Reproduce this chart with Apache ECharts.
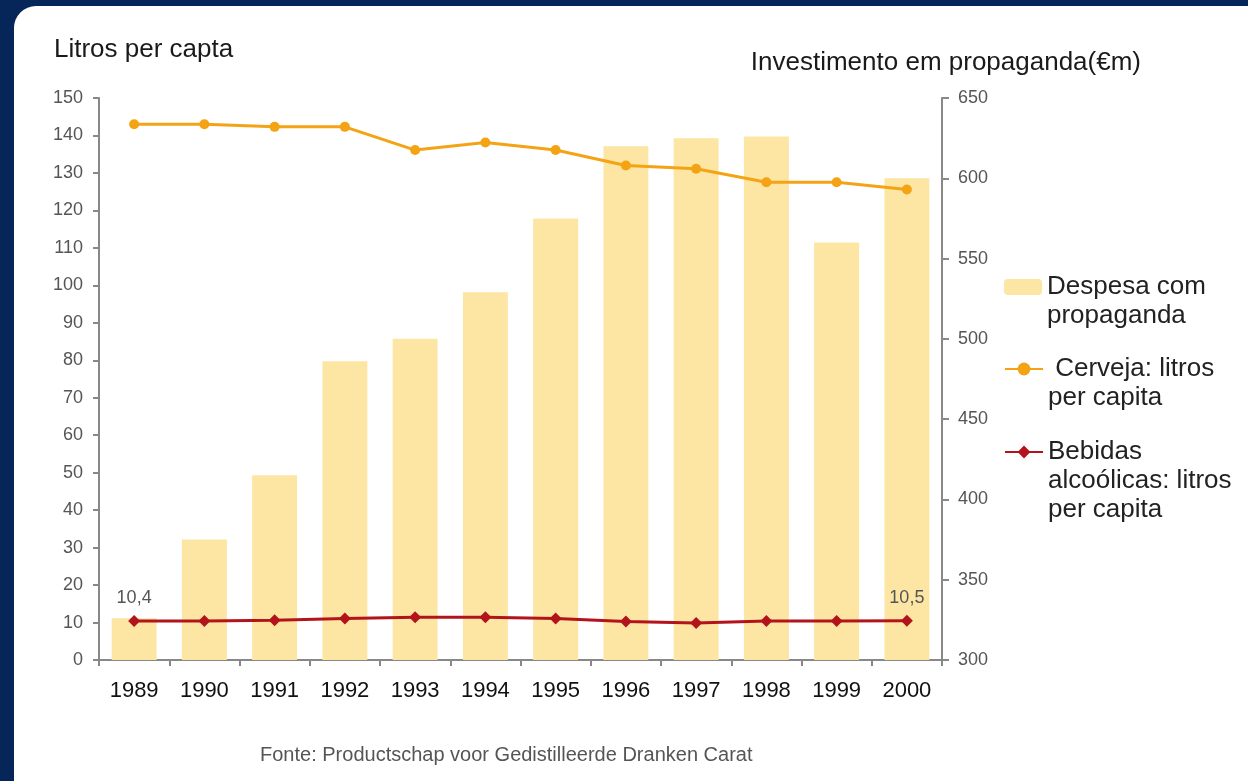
<!DOCTYPE html>
<html style="height: 100%">
<head>
  <meta charset="utf-8">
  <title>Litros per capita</title>
</head>
<body style="height: 100%; margin: 0">
<div id="container" style="height: 100%"></div>
<script src="https://cdn.jsdelivr.net/npm/echarts@6/dist/echarts.min.js"></script>
<script>
  var dom = document.getElementById("container");
  var myChart = echarts.init(dom);
  var option;

  // dados
  var anos = ['1989', '1990', '1991', '1992', '1993', '1994', '1995', '1996', '1997', '1998', '1999', '2000'];
  var despesa = [326, 375, 415, 486, 500, 529, 575, 620, 625, 626, 560, 600];
  var cerveja = [143.0, 143.0, 142.3, 142.3, 136.1, 138.1, 136.1, 132.0, 131.1, 127.5, 127.5, 125.6];
  var bebidas = [10.4, 10.4, 10.6, 11.1, 11.4, 11.4, 11.1, 10.3, 9.9, 10.4, 10.4, 10.5];

  var nomes = ['Despesa com propaganda', 'Cerveja: litros per capita', 'Bebidas alcoólicas: litros per capita'];
  var textos = {
    'Despesa com propaganda': 'Despesa com\npropaganda',
    'Cerveja: litros per capita': ' Cerveja: litros\nper capita',
    'Bebidas alcoólicas: litros per capita': 'Bebidas\nalcoólicas: litros\nper capita'
  };
  var LH = 29;

  // rotulo so no primeiro e no ultimo ponto
  var bebidasData = bebidas.map(function (v, i) {
    var d = { value: v };
    if (i === 0 || i === bebidas.length - 1) {
      d.label = { show: true };
    }
    return d;
  });

  // legenda: o icone fica na primeira linha, por isso linhas vazias em cima
  function legenda(nome, yPrimeira) {
    var n = textos[nome].split('\n').length;
    var vazio = new Array(n).join(' \n');
    return {
      data: [nome],
      orient: 'vertical',
      left: 1004,
      top: yPrimeira - (2 * n - 1) * LH / 2,
      padding: 0,
      itemWidth: 38,
      itemHeight: 16,
      selectedMode: false,
      formatter: function (name) { return vazio + textos[name]; },
      textStyle: {
        fontFamily: 'Liberation Sans',
        fontSize: 26,
        lineHeight: LH,
        color: '#222'
      }
    };
  }

  option = {
    backgroundColor: '#06265a',
    animation: false,
    textStyle: { fontFamily: 'Liberation Sans' },
    graphic: [{
      type: 'rect',
      shape: { x: 14, y: 6, width: 1260, height: 800, r: [22, 0, 0, 0] },
      style: { fill: '#fff' },
      z: -10
    }],
    title: [{
      text: 'Litros per capta',
      left: 49,
      top: 32,
      textStyle: { fontSize: 26, fontWeight: 'normal', color: '#1a1a1a' }
    }, {
      text: 'Investimento em propaganda(€m)',
      right: 102,
      top: 45,
      textStyle: { fontSize: 26, fontWeight: 'normal', color: '#1a1a1a' }
    }, {
      text: 'Fonte: Productschap voor Gedistilleerde Dranken Carat',
      left: 255,
      top: 740,
      textStyle: { fontSize: 20, fontWeight: 'normal', color: '#555' }
    }],
    legend: [
      legenda(nomes[0], 287),
      legenda(nomes[1], 369),
      legenda(nomes[2], 452)
    ],
    grid: {
      left: 99,
      right: 306,
      top: 98,
      bottom: 121
    },
    xAxis: {
      type: 'category',
      data: anos,
      boundaryGap: true,
      axisLine: { lineStyle: { color: '#888', width: 2 } },
      axisTick: { show: true, length: 6, lineStyle: { color: '#888', width: 2 } },
      axisLabel: { color: '#111', fontSize: 22, margin: 20 }
    },
    yAxis: [{
      type: 'value',
      min: 0,
      max: 150,
      interval: 10,
      axisLine: { show: true, lineStyle: { color: '#888', width: 2 } },
      axisTick: { show: true, length: 6, lineStyle: { color: '#888', width: 2 } },
      axisLabel: { color: '#555', fontSize: 18, margin: 16 },
      splitLine: { show: false }
    }, {
      type: 'value',
      position: 'right',
      min: 300,
      max: 650,
      interval: 50,
      axisLine: { show: true, lineStyle: { color: '#888', width: 2 } },
      axisTick: { show: true, length: 7, lineStyle: { color: '#888', width: 2 } },
      axisLabel: { color: '#555', fontSize: 18, margin: 16 },
      splitLine: { show: false }
    }],
    series: [{
      name: nomes[0],
      type: 'bar',
      yAxisIndex: 1,
      data: despesa,
      barWidth: '64%',
      itemStyle: { color: '#fde6a3' }
    }, {
      name: nomes[1],
      type: 'line',
      yAxisIndex: 0,
      data: cerveja,
      symbol: 'circle',
      symbolSize: 10,
      lineStyle: { color: '#f4a315', width: 3 },
      itemStyle: { color: '#f4a315' },
      z: 3
    }, {
      name: nomes[2],
      type: 'line',
      yAxisIndex: 0,
      data: bebidasData,
      symbol: 'diamond',
      symbolSize: 12,
      lineStyle: { color: '#b3141c', width: 3 },
      itemStyle: { color: '#b3141c' },
      label: {
        show: false,
        position: 'top',
        distance: 8,
        color: '#555',
        fontSize: 18,
        formatter: function (p) { return String(p.value).replace('.', ','); }
      },
      z: 4
    }]
  };

  if (option && typeof option === 'object') {
    myChart.setOption(option);
  }
</script>
</body>
</html>
